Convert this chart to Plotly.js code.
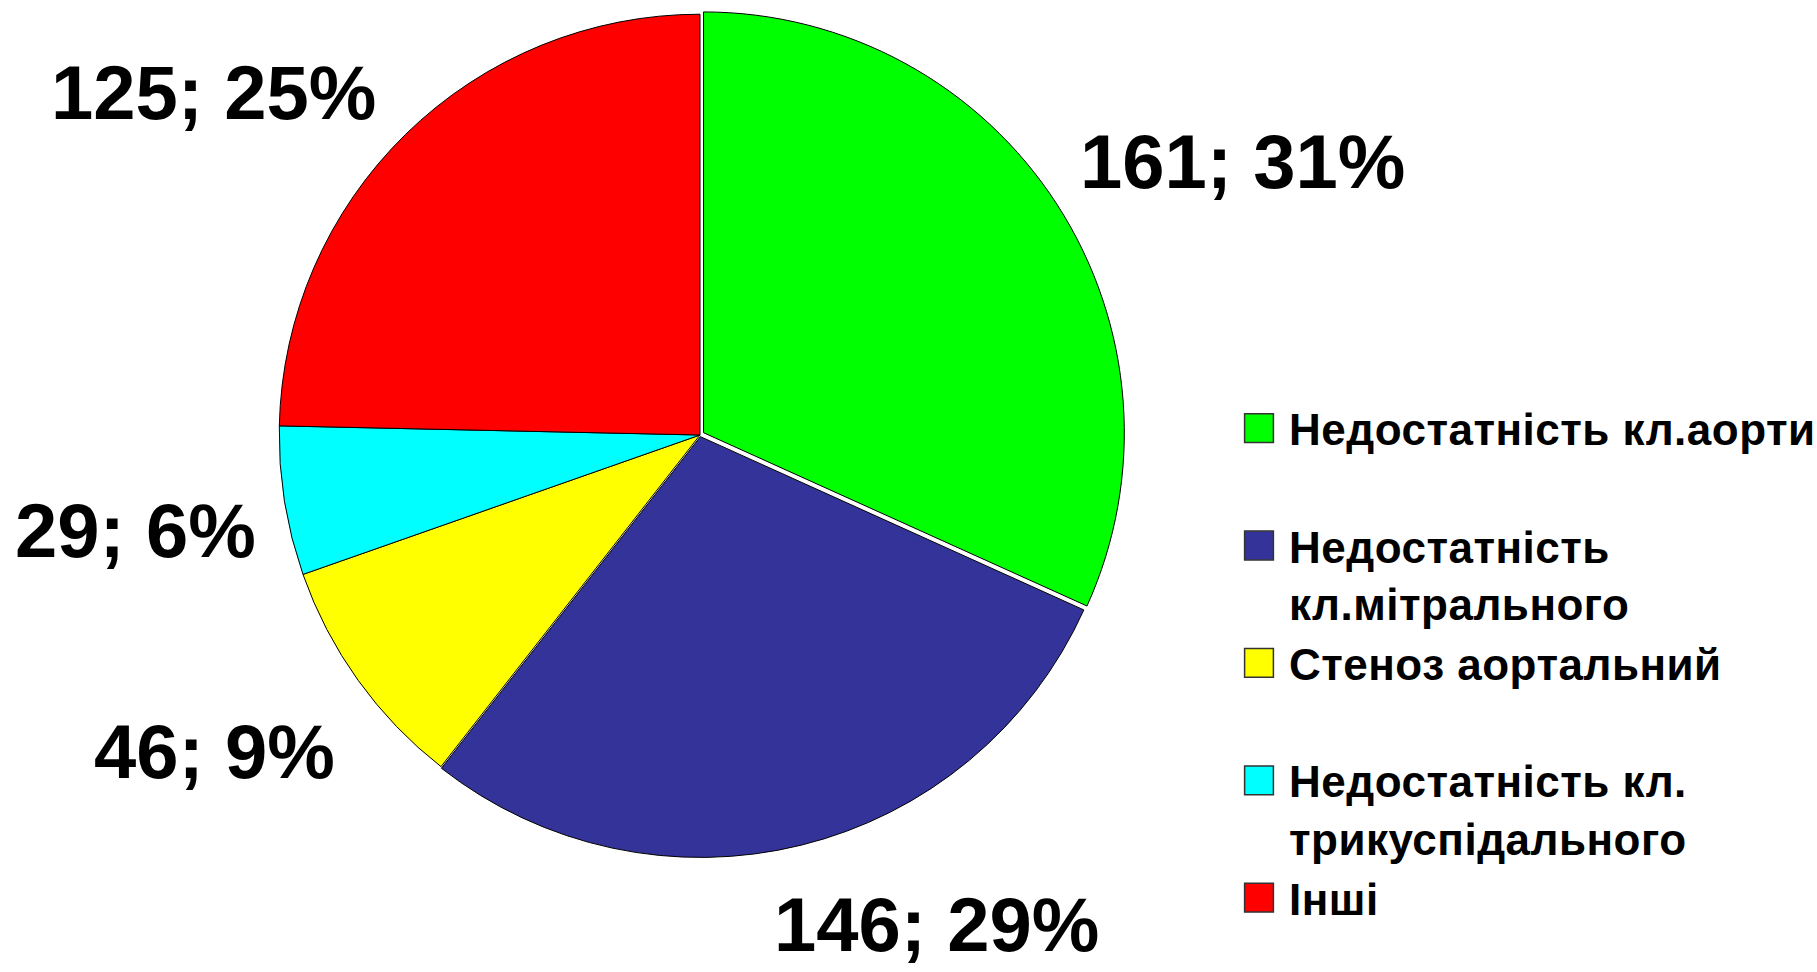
<!DOCTYPE html>
<html>
<head>
<meta charset="utf-8">
<script src="https://cdn.plot.ly/plotly-3.0.1.min.js"></script>
<style>
  html, body { margin: 0; padding: 0; background: #ffffff; }
  #chart { width: 1817px; height: 972px; }
</style>
</head>
<body>
<div id="chart"></div>
<script>
// ---- data ----
var categories = [
  "Недостатність кл.аорти",
  "Недостатність<br>кл.мітрального",
  "Стеноз аортальний",
  "Недостатність кл.<br>трикуспідального",
  "Інші"
];
var counts = [161, 146, 46, 29, 125];
var percentLabels = [31, 29, 9, 6, 25];
var sliceColors = ["#00FF00", "#333399", "#FFFF00", "#00FFFF", "#FF0000"];

// ---- styling / placement (not data) ----
var W = 1817, H = 972;
var labelCentersPx = [[1242, 161], [936, 924], [214, 751], [135, 530], [213, 93]];
var pulls = [0.01, 0.004, 0, 0, 0];

// legend entries: pad single-line entries with a blank second line (as in the reference)
var legendLabels = categories.map(function (c) {
  return c.indexOf("<br>") >= 0 ? c : c + "<br>\u00a0";
});

var annotations = counts.map(function (v, i) {
  return {
    text: v + "; " + percentLabels[i] + "%",
    x: labelCentersPx[i][0] / W,
    y: 1 - labelCentersPx[i][1] / H,
    xref: "paper", yref: "paper",
    xanchor: "center", yanchor: "middle",
    showarrow: false,
    font: { family: "Liberation Sans, Arial, sans-serif", size: 76, color: "#000000", weight: "bold" }
  };
});

var cx = 700, cy = 435, half = 425;
var trace = {
  type: "pie",
  labels: legendLabels,
  values: counts,
  sort: false,
  direction: "clockwise",
  rotation: 0,
  pull: pulls,
  textinfo: "none",
  textposition: "none",
  hoverinfo: "skip",
  marker: { colors: sliceColors, line: { color: "#000000", width: 1 } },
  domain: {
    x: [(cx - half) / W, (cx + half) / W],
    y: [1 - (cy + half) / H, 1 - (cy - half) / H]
  }
};

var layout = {
  width: W, height: H,
  margin: { l: 0, r: 0, t: 0, b: 0, autoexpand: false },
  paper_bgcolor: "#ffffff",
  plot_bgcolor: "#ffffff",
  font: { family: "Liberation Sans, Arial, sans-serif", color: "#000000" },
  showlegend: true,
  legend: {
    x: 1229 / W, xanchor: "left",
    y: 1 - 393 / H, yanchor: "top",
    valign: "top",
    itemwidth: 50,
    bgcolor: "rgba(0,0,0,0)",
    borderwidth: 0,
    traceorder: "normal",
    font: { family: "Liberation Sans, Arial, sans-serif", size: 44, color: "#000000", weight: "bold" }
  },
  annotations: annotations
};

Plotly.newPlot("chart", [trace], layout, { displayModeBar: false, staticPlot: true }).then(function (gd) {
  var pts = gd.querySelectorAll(".legend .legendpoints path");
  pts.forEach(function (el) {
    el.setAttribute("transform", "translate(30,0) scale(2.4)");
    el.style.vectorEffect = "non-scaling-stroke";
    el.style.stroke = "#333333";
    el.style.strokeWidth = "1.5px";
  });
  gd.querySelectorAll(".legend .scrollbox").forEach(function (el) {
    el.removeAttribute("clip-path");
  });
  gd.querySelectorAll(".legend text.legendtext").forEach(function (el) {
    el.style.letterSpacing = "0.5px";
  });
});
</script>
</body>
</html>
